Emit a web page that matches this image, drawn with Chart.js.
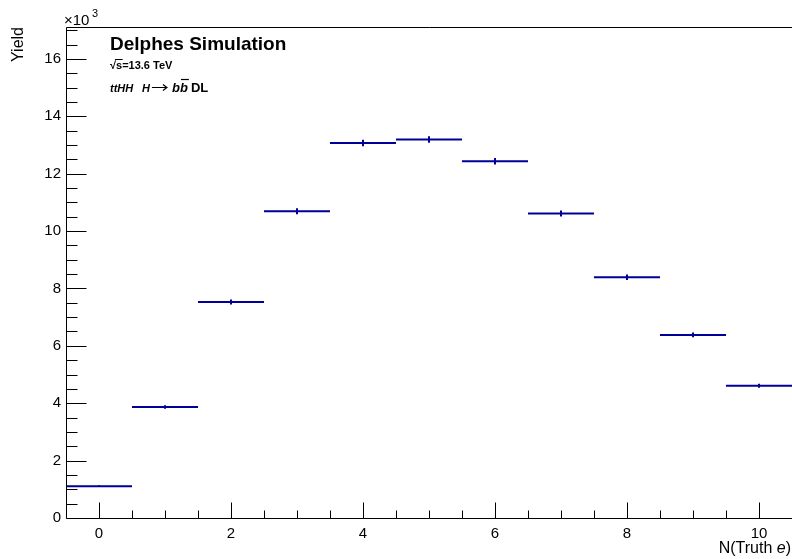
<!DOCTYPE html>
<html><head><meta charset="utf-8">
<script src="https://cdn.jsdelivr.net/npm/chart.js@4"></script>
<style>html,body{margin:0;padding:0;background:#fff}#wrap{width:792px;height:559px;position:relative}</style>
</head><body><div id="wrap"><canvas id="c" width="792" height="559"></canvas></div>
<script>
const binCenters = [0, 1, 2, 3, 4, 5, 6, 7, 8, 9, 10];
const yieldVals  = [1110, 3870, 7530, 10690, 13070, 13190, 12430, 10610, 8390, 6380, 4610];
const yieldErr   = [33, 62, 87, 103, 114, 115, 111, 103, 92, 80, 68];
const xTickLabels = ['0', '2', '4', '6', '8', '10'];
const yTickLabels = ['0', '2', '4', '6', '8', '10', '12', '14', '16'];
const xRange = [-0.5, 10.5];
const yRange = [0, 17110];

const FONT = '"Liberation Sans", Arial, Helvetica, sans-serif';
const LINE_COLOR = '#000099';

const stepData = [];
binCenters.forEach((c, i) => {
  stepData.push({x: c - 0.5, y: yieldVals[i]});
  stepData.push({x: c + 0.5, y: yieldVals[i]});
  stepData.push({x: c + 0.5, y: null});
});

const rootPlugin = {
  id: 'rootStyle',
  afterDatasetsDraw(chart) {
    const {ctx, chartArea: a, scales: {x, y}} = chart;
    ctx.save();
    // error bars
    ctx.strokeStyle = LINE_COLOR;
    ctx.lineWidth = 2;
    binCenters.forEach((c, i) => {
      const px = Math.round(x.getPixelForValue(c));
      ctx.beginPath();
      ctx.moveTo(px, y.getPixelForValue(yieldVals[i] - yieldErr[i]));
      ctx.lineTo(px, y.getPixelForValue(yieldVals[i] + yieldErr[i]));
      ctx.stroke();
    });
    // frame
    ctx.strokeStyle = '#000';
    ctx.lineWidth = 1;
    const L = Math.round(a.left) + 0.5, B = Math.round(a.bottom) + 0.5, T = Math.round(a.top) + 0.5;
    ctx.beginPath();
    ctx.moveTo(L, T); ctx.lineTo(a.right, T);
    ctx.moveTo(L, T); ctx.lineTo(L, B);
    ctx.lineTo(a.right, B);
    ctx.stroke();
    // y ticks
    ctx.beginPath();
    for (let v = 0; v <= yRange[1]; v += 500) {
      const py = Math.round(y.getPixelForValue(v)) + 0.5;
      const len = (v % 2000 === 0) ? 20 : 11;
      ctx.moveTo(L, py); ctx.lineTo(L + len, py);
    }
    // x ticks
    for (let v = 0; v <= xRange[1]; v += 0.5) {
      const px = Math.round(x.getPixelForValue(v)) + 0.5;
      const len = (Math.abs(v % 2) < 1e-9) ? 16 : 8;
      ctx.moveTo(px, B); ctx.lineTo(px, B - len);
    }
    ctx.stroke();

    // texts
    ctx.fillStyle = '#000';
    ctx.textBaseline = 'alphabetic';
    // x10^3
    ctx.font = '15px ' + FONT;
    ctx.textAlign = 'left';
    ctx.fillText('\u00d710', 64, 25);
    ctx.font = '11px ' + FONT;
    ctx.fillText('3', 92, 17);
    // Yield
    ctx.save();
    ctx.translate(23, 27);
    ctx.rotate(-Math.PI / 2);
    ctx.font = '16px ' + FONT;
    ctx.textAlign = 'right';
    ctx.fillText('Yield', 0, 0);
    ctx.restore();
    // N(Truth e)
    ctx.font = 'italic 16px ' + FONT;
    const eW = ctx.measureText('e').width;
    ctx.textAlign = 'right';
    ctx.font = '16px ' + FONT;
    ctx.fillText(')', 791, 553);
    const pW = ctx.measureText(')').width;
    ctx.font = 'italic 16px ' + FONT;
    ctx.fillText('e', 791 - pW, 553);
    ctx.font = '16px ' + FONT;
    ctx.fillText('N(Truth ', 791 - pW - eW, 553);

    // Delphes Simulation
    ctx.textAlign = 'left';
    ctx.font = 'bold 19px ' + FONT;
    ctx.fillText('Delphes Simulation', 110, 50);
    // sqrt(s)=13.6 TeV
    ctx.font = 'bold 11px ' + FONT;
    let cx = 110;
    ctx.fillText('\u221a', cx, 69);
    cx += ctx.measureText('\u221a').width;
    const sW = ctx.measureText('s').width;
    ctx.fillText('s', cx, 69);
    ctx.beginPath();
    ctx.lineWidth = 1;
    ctx.moveTo(cx - 1, 59.5); ctx.lineTo(cx + sW + 0.5, 59.5);
    ctx.stroke();
    cx += sW;
    ctx.fillText('=13.6 TeV', cx, 69);
    // ttHH H->bb DL
    cx = 110;
    const by = 92;
    const seg = (t, f, sz) => { ctx.font = f + ' ' + (sz || 11) + 'px ' + FONT; ctx.fillText(t, cx, by); const w = ctx.measureText(t).width; cx += w; return w; };
    seg('ttHH', 'italic bold');
    cx = 142;
    seg('H', 'italic bold');
    // arrow
    ctx.beginPath();
    ctx.lineWidth = 1.2;
    const ay = 87.5;
    ctx.moveTo(cx + 2, ay); ctx.lineTo(cx + 17, ay);
    ctx.moveTo(cx + 13, ay - 3); ctx.lineTo(cx + 17, ay); ctx.lineTo(cx + 13, ay + 3);
    ctx.stroke();
    cx = 172;
    seg('b', 'italic bold', 13);
    const bx = cx;
    const bw = seg('b', 'italic bold', 13);
    ctx.beginPath();
    ctx.lineWidth = 1.2;
    ctx.moveTo(bx + 1, 79.5); ctx.lineTo(bx + bw + 1, 79.5);
    ctx.stroke();
    cx += 3;
    seg('DL', 'bold', 13);
    ctx.restore();
  }
};

new Chart(document.getElementById('c'), {
  type: 'line',
  data: {
    datasets: [{
      data: stepData,
      borderColor: LINE_COLOR,
      borderWidth: 2,
      pointRadius: 0,
      spanGaps: false,
      fill: false,
      tension: 0
    }]
  },
  options: {
    responsive: false,
    devicePixelRatio: 1,
    animation: false,
    parsing: true,
    layout: {padding: {top: 27, right: 0, left: 0, bottom: 0}},
    plugins: {legend: {display: false}, tooltip: {enabled: false}},
    scales: {
      x: {
        type: 'linear',
        min: xRange[0], max: xRange[1],
        grid: {display: false, drawTicks: false},
        border: {display: false},
        afterBuildTicks: s => { s.ticks = xTickLabels.map(l => ({value: parseFloat(l)})); },
        afterFit: s => { s.height = 41; },
        ticks: {
          autoSkip: false, maxRotation: 0, padding: 7,
          color: '#000', font: {family: FONT, size: 15},
          callback: (v) => { const i = xTickLabels.findIndex(l => parseFloat(l) === v); return i >= 0 ? xTickLabels[i] : ''; }
        }
      },
      y: {
        type: 'linear',
        min: yRange[0], max: yRange[1],
        grid: {display: false, drawTicks: false},
        border: {display: false},
        afterBuildTicks: s => { s.ticks = yTickLabels.map(l => ({value: parseFloat(l) * 1000})); },
        afterFit: s => { s.width = 66; },
        ticks: {
          autoSkip: false, padding: 5,
          color: '#000', font: {family: FONT, size: 15},
          callback: (v) => { const i = yTickLabels.findIndex(l => parseFloat(l) * 1000 === v); return i >= 0 ? yTickLabels[i] : ''; }
        }
      }
    }
  },
  plugins: [rootPlugin]
});
</script>
</body></html>
